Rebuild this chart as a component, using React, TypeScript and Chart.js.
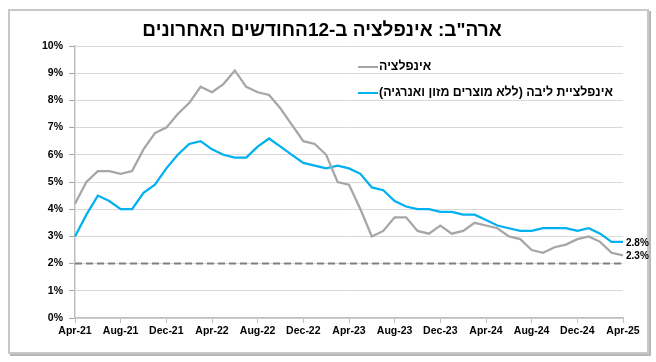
import React, { useEffect, useRef } from "react";
import { Chart, registerables } from "chart.js";

Chart.register(...registerables);

const TITLE = 'ארה"ב: אינפלציה ב-12החודשים האחרונים';

const months = [
  "Apr-21", "May-21", "Jun-21", "Jul-21", "Aug-21", "Sep-21", "Oct-21", "Nov-21", "Dec-21",
  "Jan-22", "Feb-22", "Mar-22", "Apr-22", "May-22", "Jun-22", "Jul-22", "Aug-22", "Sep-22", "Oct-22", "Nov-22", "Dec-22",
  "Jan-23", "Feb-23", "Mar-23", "Apr-23", "May-23", "Jun-23", "Jul-23", "Aug-23", "Sep-23", "Oct-23", "Nov-23", "Dec-23",
  "Jan-24", "Feb-24", "Mar-24", "Apr-24", "May-24", "Jun-24", "Jul-24", "Aug-24", "Sep-24", "Oct-24", "Nov-24", "Dec-24",
  "Jan-25", "Feb-25", "Mar-25", "Apr-25",
];

const headlineLabel = "אינפלציה";
const headline = [
  4.2, 5.0, 5.4, 5.4, 5.3, 5.4, 6.2, 6.8, 7.0,
  7.5, 7.9, 8.5, 8.3, 8.6, 9.1, 8.5, 8.3, 8.2, 7.7, 7.1, 6.5,
  6.4, 6.0, 5.0, 4.9, 4.0, 3.0, 3.2, 3.7, 3.7, 3.2, 3.1, 3.4,
  3.1, 3.2, 3.5, 3.4, 3.3, 3.0, 2.9, 2.5, 2.4, 2.6, 2.7, 2.9,
  3.0, 2.8, 2.4, 2.3,
];

const coreLabel = "אינפלציית ליבה (ללא מוצרים מזון ואנרגיה)";
const core = [
  3.0, 3.8, 4.5, 4.3, 4.0, 4.0, 4.6, 4.9, 5.5,
  6.0, 6.4, 6.5, 6.2, 6.0, 5.9, 5.9, 6.3, 6.6, 6.3, 6.0, 5.7,
  5.6, 5.5, 5.6, 5.5, 5.3, 4.8, 4.7, 4.3, 4.1, 4.0, 4.0, 3.9,
  3.9, 3.8, 3.8, 3.6, 3.4, 3.3, 3.2, 3.2, 3.3, 3.3, 3.3, 3.2,
  3.3, 3.1, 2.8, 2.8,
];

const TARGET = 2;
const yTicks = [0, 1, 2, 3, 4, 5, 6, 7, 8, 9, 10];

const GRAY = "#a6a6a6";
const BLUE = "#00b0f0";
const FONT = "'Liberation Sans', Arial, sans-serif";

const framePlugin = {
  id: "frame",
  beforeDraw(chart: any) {
    const { ctx, width, height } = chart;
    ctx.save();
    ctx.fillStyle = "#ffffff";
    ctx.fillRect(0, 0, width, height);
    ctx.strokeStyle = "#c8c8c8";
    ctx.lineWidth = 2;
    ctx.strokeRect(9, 10, 639, 343);
    ctx.strokeStyle = "#a0a0a0";
    ctx.lineWidth = 1.5;
    ctx.beginPath();
    ctx.moveTo(650, 11);
    ctx.lineTo(650, 355);
    ctx.lineTo(10, 355);
    ctx.stroke();
    ctx.restore();
  },
};

const targetPlugin = {
  id: "target",
  beforeDatasetsDraw(chart: any) {
    const { ctx, chartArea, scales } = chart;
    const y = scales.y.getPixelForValue(TARGET);
    ctx.save();
    ctx.strokeStyle = "#808080";
    ctx.lineWidth = 2;
    ctx.setLineDash([7, 4]);
    ctx.beginPath();
    ctx.moveTo(chartArea.left, y);
    ctx.lineTo(chartArea.right, y);
    ctx.stroke();
    ctx.restore();
  },
};

const annotPlugin = {
  id: "annot",
  afterDraw(chart: any) {
    const { ctx } = chart;
    ctx.save();
    // title
    ctx.fillStyle = "#000";
    ctx.font = `bold 19px ${FONT}`;
    ctx.textAlign = "center";
    ctx.textBaseline = "middle";
    ctx.direction = "rtl";
    ctx.fillText(TITLE, 322, 31);

    // legend
    const items = [
      { label: headlineLabel, color: GRAY, y: 67 },
      { label: coreLabel, color: BLUE, y: 93 },
    ];
    ctx.font = `bold 12.4px ${FONT}`;
    for (const it of items) {
      ctx.strokeStyle = it.color;
      ctx.lineWidth = 2;
      ctx.setLineDash([]);
      ctx.beginPath();
      ctx.moveTo(358, it.y);
      ctx.lineTo(378, it.y);
      ctx.stroke();
      ctx.fillStyle = "#000";
      ctx.direction = "rtl";
      ctx.textAlign = "left";
      ctx.textBaseline = "middle";
      ctx.fillText(it.label, 379, it.y);
    }

    // end labels
    ctx.direction = "ltr";
    ctx.textAlign = "left";
    ctx.font = `bold 10px ${FONT}`;
    const metas = [chart.getDatasetMeta(1), chart.getDatasetMeta(0)];
    const vals = [core[core.length - 1], headline[headline.length - 1]];
    metas.forEach((m: any, i: number) => {
      const pt = m.data[m.data.length - 1];
      ctx.fillText(vals[i].toFixed(1) + "%", pt.x + 3, pt.y + 1);
    });
    ctx.restore();
  },
};

export default function App() {
  const ref = useRef<HTMLCanvasElement | null>(null);
  useEffect(() => {
    document.body.style.margin = "0";
    const canvas = ref.current!;
    const chart = new Chart(canvas, {
      type: "line",
      data: {
        labels: months,
        datasets: [
          {
            label: headlineLabel,
            data: headline,
            borderColor: GRAY,
            borderWidth: 2.25,
            pointRadius: 0,
            tension: 0,
            fill: false,
          },
          {
            label: coreLabel,
            data: core,
            borderColor: BLUE,
            borderWidth: 2.25,
            pointRadius: 0,
            tension: 0,
            fill: false,
          },
        ],
      },
      options: {
        animation: false,
        responsive: false,
        maintainAspectRatio: false,
        devicePixelRatio: 1,
        layout: { padding: { left: 0, right: 33, top: 46, bottom: 0 } },
        plugins: {
          legend: { display: false },
          title: { display: false },
          tooltip: { enabled: false },
        },
        scales: {
          x: {
            type: "category",
            offset: false,
            afterFit(scale: any) {
              scale.height = 44;
            },
            grid: {
              drawOnChartArea: false,
              drawTicks: true,
              tickLength: 5,
              tickColor: "#bfbfbf",
              color: "#bfbfbf",
            },
            border: { display: true, color: "#bfbfbf", width: 1.5 },
            ticks: {
              autoSkip: false,
              maxRotation: 0,
              minRotation: 0,
              padding: 2,
              color: "#000",
              font: { family: FONT, size: 10.5, weight: "bold" },
              callback(_v: any, i: number) {
                return i % 4 === 0 ? months[i] : null;
              },
            },
          },
          y: {
            min: yTicks[0],
            max: yTicks[yTicks.length - 1],
            afterFit(scale: any) {
              scale.width = 75;
            },
            afterBuildTicks(scale: any) {
              scale.ticks = yTicks.map((v) => ({ value: v }));
            },
            grid: {
              color: "#d9d9d9",
              lineWidth: 1,
              drawTicks: true,
              tickLength: 6,
              tickColor: "#a6a6a6",
            },
            border: { display: true, color: "#bfbfbf", width: 1.5 },
            ticks: {
              padding: 6,
              color: "#000",
              font: { family: FONT, size: 10.5, weight: "bold" },
              callback(v: any) {
                return v + "%";
              },
            },
          },
        },
      },
      plugins: [framePlugin, targetPlugin, annotPlugin],
    } as any);
    return () => chart.destroy();
  }, []);
  return (
    <div style={{ position: "absolute", left: 0, top: 0, width: 656, height: 362 }}>
      <canvas ref={ref} width={656} height={362} style={{ display: "block", width: 656, height: 362 }} />
    </div>
  );
}
